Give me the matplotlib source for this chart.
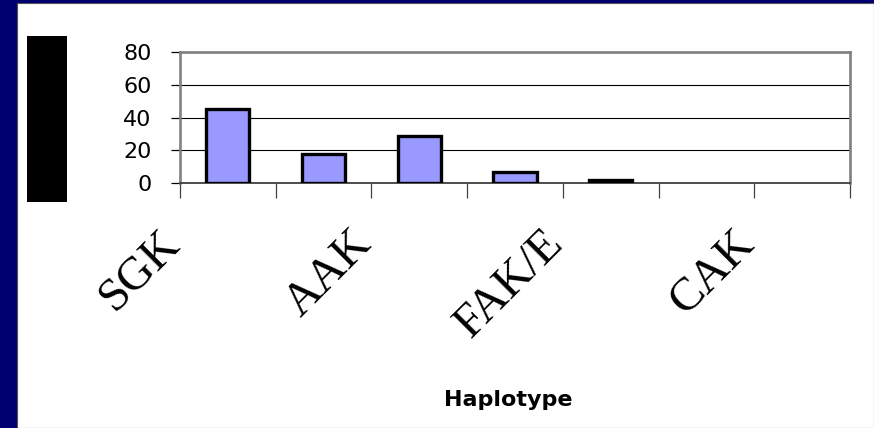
import matplotlib
matplotlib.use('Agg')
import matplotlib.pyplot as plt
from matplotlib.patches import Rectangle

categories = ['SGK', 'SGK2', 'AAK', 'AAK2', 'FAK/E', 'FAK2', 'CAK']
shown_labels = ['SGK', '', 'AAK', '', 'FAK/E', '', 'CAK']
values = [45, 18, 29, 7, 2, 0, 0]
yticks = [0, 20, 40, 60, 80]

navy = '#000070'
fig = plt.figure(figsize=(8.74, 4.28), dpi=100, facecolor=navy)

# white slide panel and the blacked-out y label block
fig.patches.append(Rectangle((17/874, 0), 1 - 17/874, 1 - 3/428, transform=fig.transFigure,
                             facecolor='white', edgecolor='#555555', lw=0.8, zorder=-2))
fig.patches.append(Rectangle((27/874, 1 - 202/428), 40/874, 166/428, transform=fig.transFigure,
                             facecolor='black', edgecolor='none', zorder=-1))

ax = fig.add_axes([180/874, 1 - 183/428, 670/874, 131/428])
ax.set_zorder(5)
ax.set_facecolor('white')

x = list(range(1, len(values) + 1))
edge_w = [2.4 if v > 0 else 0 for v in values]
ax.bar(x, values, width=0.45, color='#9999FF', edgecolor='black', linewidth=edge_w, zorder=3)

ax.set_xlim(0.5, len(values) + 0.5)
ax.set_ylim(0, 80)
ax.set_yticks(yticks)
ax.set_yticklabels([str(v) for v in yticks], fontsize=16, family='DejaVu Sans')
ax.yaxis.grid(True, color='black', lw=0.8, zorder=1)
ax.tick_params(axis='y', direction='out', length=6.5, width=0.9, pad=14, color='black')

# category boundary ticks, no labels
ax.set_xticks([i + 0.5 for i in range(len(values) + 1)])
ax.set_xticklabels([])
ax.tick_params(axis='x', direction='out', length=11, width=0.9, color='#404040')

for s in ['top', 'left', 'right']:
    ax.spines[s].set_color('#808080')
    ax.spines[s].set_linewidth(1.9)
ax.spines['bottom'].set_color('#404040')
ax.spines['bottom'].set_linewidth(1.3)

for xi, lab in zip(x, shown_labels):
    if lab:
        ax.annotate(lab, xy=(xi, 0), xycoords='data', xytext=(-39, -39), textcoords='offset points',
                    rotation=45, ha='right', va='center', rotation_mode='anchor',
                    fontsize=34, family='Liberation Serif', annotation_clip=False)

fig.text(508/874, 1 - 406/428, 'Haplotype', ha='center', va='baseline',
         fontsize=16, fontweight='bold', family='DejaVu Sans')

fig.savefig('out.png', dpi=100, facecolor=navy)
